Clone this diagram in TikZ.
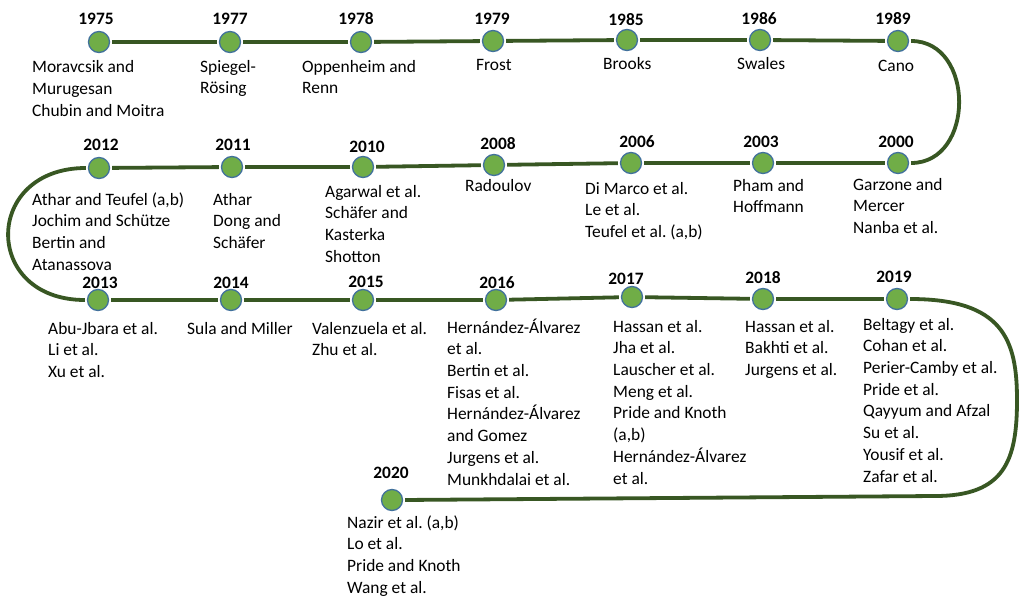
\documentclass[tikz,border=0pt]{standalone}
\usepackage{fontspec}
\setmainfont{Carlito}
\frenchspacing
\definecolor{lineg}{HTML}{385723}
\definecolor{dotg}{HTML}{70AD47}
\definecolor{dotb}{HTML}{41719C}
\begin{document}
\begin{tikzpicture}[x=1pt,y=-1pt,
  dot/.style={circle,fill=dotg,draw=dotb,line width=1.3pt,minimum size=21pt,inner sep=0pt},
  yr/.style={font=\fontsize{17.4}{21.7}\selectfont\bfseries,anchor=base,inner sep=0pt},
  txt/.style={font=\fontsize{17.4}{21.7}\selectfont\frenchspacing,anchor=north west,align=left,inner sep=0pt,yshift=15.2pt},
  conn/.style={draw=lineg,line width=3.8pt,shorten <=2pt,shorten >=2pt}]
\path[fill=white,use as bounding box] (0,0) rectangle (1019,596);

% ---- row 1 ----
\node[dot] (c1975) at (99,42) {};
\node[dot] (c1977) at (230,42) {};
\node[dot] (c1978) at (361,42) {};
\node[dot] (c1979) at (493,41) {};
\node[dot] (c1985) at (627,40) {};
\node[dot] (c1986) at (760,40) {};
\node[dot] (c1989) at (898,41) {};
\node[yr] (y1975) at (96,25) {1975};
\node[yr] (y1977) at (230,25) {1977};
\node[yr] (y1978) at (356,25) {1978};
\node[yr] (y1979) at (492,25) {1979};
\node[yr] (y1985) at (626,26) {1985};
\node[yr] (y1986) at (759,25) {1986};
\node[yr] (y1989) at (893,25) {1989};
\node[txt] (t1975) at (32,72.5) {\strut Moravcsik and\\Murugesan\\Chubin and Moitra};
\node[txt] (t1977) at (200,72) {\strut Spiegel-\\Rösing};
\node[txt] (t1978) at (302,72) {\strut Oppenheim and\\Renn};
\node[txt] (t1979) at (476,70) {\strut Frost};
\node[txt] (t1985) at (603,69) {\strut Brooks};
\node[txt] (t1986) at (737,69) {\strut Swales};
\node[txt] (t1989) at (878,71) {\strut Cano};

% ---- row 2 ----
\node[dot] (c2012) at (99,168) {};
\node[dot] (c2011) at (232,167) {};
\node[dot] (c2010) at (363,167) {};
\node[dot] (c2008) at (494,165) {};
\node[dot] (c2006) at (631,163) {};
\node[dot] (c2003) at (763,163) {};
\node[dot] (c2000) at (898,163) {};
\node[yr] (y2012) at (101,151) {2012};
\node[yr] (y2011) at (233,151) {2011};
\node[yr] (y2010) at (367,153) {2010};
\node[yr] (y2008) at (498,150) {2008};
\node[yr] (y2006) at (637,148) {2006};
\node[yr] (y2003) at (761,148) {2003};
\node[yr] (y2000) at (896,148) {2000};
\node[txt] (t2012) at (32,205) {\strut Athar and Teufel (a,b)\\Jochim and Schütze\\Bertin and\\Atanassova};
\node[txt] (t2011) at (213,205) {\strut Athar\\Dong and\\Schäfer};
\node[txt] (t2010) at (325,197) {\strut Agarwal et al.\\Schäfer and\\Kasterka\\Shotton};
\node[txt] (t2008) at (465,191) {\strut Radoulov};
\node[txt] (t2006) at (585,194) {\strut Di Marco et al.\\Le et al.\\Teufel et al. (a,b)};
\node[txt] (t2003) at (733,191) {\strut Pham and\\Hoffmann};
\node[txt] (t2000) at (853,190) {\strut Garzone and\\Mercer\\Nanba et al.};

% ---- row 3 ----
\node[dot] (c2013) at (98,300) {};
\node[dot] (c2014) at (231,300) {};
\node[dot] (c2015) at (363,300) {};
\node[dot] (c2016) at (496,300) {};
\node[dot] (c2017) at (632,297) {};
\node[dot] (c2018) at (763,299) {};
\node[dot] (c2019) at (897,299) {};
\node[yr] (y2013) at (100,288) {2013};
\node[yr] (y2014) at (231,288) {2014};
\node[yr] (y2015) at (366,287) {2015};
\node[yr] (y2016) at (497,288) {2016};
\node[yr] (y2017) at (626,284) {2017};
\node[yr] (y2018) at (763,283) {2018};
\node[yr] (y2019) at (894,282) {2019};
\node[txt] (t2013) at (48,334) {\strut Abu-Jbara et al.\\Li et al.\\Xu et al.};
\node[txt] (t2014) at (187,334) {\strut Sula and Miller};
\node[txt] (t2015) at (312,334) {\strut Valenzuela et al.\\Zhu et al.};
\node[txt] (t2016) at (447,333) {\strut Hernández-Álvarez\\et al.\\Bertin et al.\\Fisas et al.\\Hernández-Álvarez\\and Gomez\\Jurgens et al.\\Munkhdalai et al.};
\node[txt] (t2017) at (613,332) {\strut Hassan et al.\\Jha et al.\\Lauscher et al.\\Meng et al.\\Pride and Knoth\\(a,b)\\Hernández-Álvarez\\et al.};
\node[txt] (t2018) at (745,332) {\strut Hassan et al.\\Bakhti et al.\\Jurgens et al.};
\node[txt] (t2019) at (863,330) {\strut Beltagy et al.\\Cohan et al.\\Perier-Camby et al.\\Pride et al.\\Qayyum and Afzal\\Su et al.\\Yousif et al.\\Zafar et al.};

% ---- row 4 ----
\node[dot] (c2020) at (392,500) {};
\node[yr] (y2020) at (391,478) {2020};
\node[txt] (t2020) at (347,528) {\strut Nazir et al. (a,b)\\Lo et al.\\Pride and Knoth\\Wang et al.};

% ---- connectors ----
\foreach \a/\b in {1975/1977,1977/1978,1978/1979,1979/1985,1985/1986,1986/1989,
  2000/2003,2003/2006,2006/2008,2008/2010,2010/2011,2011/2012,
  2013/2014,2014/2015,2015/2016,2016/2017,2017/2018,2018/2019}
  \draw[conn] (c\a) -- (c\b);
\draw[conn] (c1989.east) .. controls +(66,0) and +(66,0) .. (c2000.east);
\draw[conn] (c2012.west) .. controls +(-105,0) and +(-105,0) .. (c2013.west);
\coordinate (rt) at (1017,400);
\coordinate (bt) at (935,496);
\draw[conn] (c2019.east) .. controls +(95,0) and +(0,-60) .. (rt)
  .. controls +(0,60) and +(70,0) .. (bt) -- (c2020.east);
\end{tikzpicture}
\end{document}
